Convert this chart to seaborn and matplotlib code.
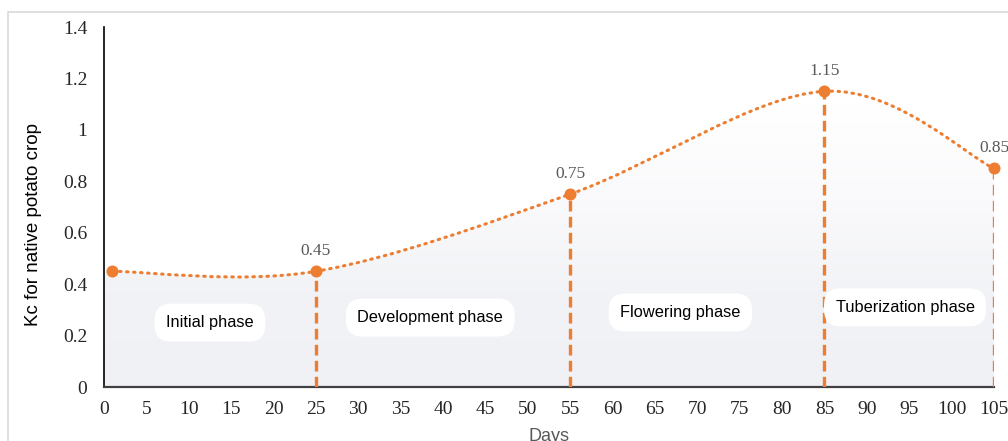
import numpy as np
import matplotlib
matplotlib.use("Agg")
import matplotlib.pyplot as plt
import seaborn as sns
import pandas as pd
from matplotlib.path import Path
from matplotlib.patches import PathPatch, Rectangle
from matplotlib.ticker import FuncFormatter

# ================================
#  Data
# ================================
days = [1, 25, 55, 85, 105]
kc = [0.45, 0.45, 0.75, 1.15, 0.85]
labelled = [False, True, True, True, True]

phases = ["Initial phase", "Development phase", "Flowering phase", "Tuberization phase"]
phase_x = [12.5, 38.5, 68, 94.5]
phase_y = [0.25, 0.27, 0.29, 0.31]

x_ticks = list(range(0, 106, 5))
y_ticks = [0, 0.2, 0.4, 0.6, 0.8, 1.0, 1.2, 1.4]

orange = "#ED7D31"
df = pd.DataFrame({"Days": days, "Kc": kc})

# ================================
#  Figure
# ================================
sns.set_theme(style="white")
plt.rcParams["font.family"] = ["Liberation Sans", "DejaVu Sans"]

fig = plt.figure(figsize=(10.08, 4.41), dpi=100)
ax = fig.add_axes([104 / 1008, 54 / 441, 890 / 1008, 360 / 441])
ax.set_xlim(0, 105)
ax.set_ylim(0, 1.4)

# outer light frame
fig.patches.append(Rectangle((8 / 1008, -0.1), 1.2, (441 - 12) / 441 + 0.1,
                             transform=fig.transFigure, fill=False,
                             ec="#d9d9d9", lw=1.2, zorder=0))

# smoothed (Excel-like) curve as Bezier path through the data points
pts = np.column_stack([days, kc])
ext = np.vstack([pts[0], pts, pts[-1]])
verts = [tuple(pts[0])]
codes = [Path.MOVETO]
for i in range(len(pts) - 1):
    p0, p1, p2, p3 = ext[i], ext[i + 1], ext[i + 2], ext[i + 3]
    c1 = p1 + (p2 - p0) / 6
    c2 = p2 - (p3 - p1) / 6
    verts += [tuple(c1), tuple(c2), tuple(p2)]
    codes += [Path.CURVE4] * 3
curve = Path(verts, codes)

# gradient fill under the curve (gray at the bottom, white towards the top)
fill_verts = verts + [(days[-1], 0), (0, 0), (0, kc[0]), verts[0]]
fill_codes = codes + [Path.LINETO, Path.LINETO, Path.LINETO, Path.CLOSEPOLY]
fill_patch = PathPatch(Path(fill_verts, fill_codes), fc="none", ec="none")
ax.add_patch(fill_patch)
grad = np.linspace(0, 1, 256).reshape(-1, 1)
cmap = matplotlib.colors.LinearSegmentedColormap.from_list(
    "g", ["#ffffff", "#fafafc", "#f2f3f6", "#f0f1f5"])
img = ax.imshow(grad, extent=[0, 105, 0, 1.1], origin="upper", aspect="auto",
                cmap=cmap, zorder=0.5, vmin=0, vmax=1)
img.set_clip_path(fill_patch)

ax.add_patch(PathPatch(curve, fc="none", ec=orange, lw=2.2,
                       linestyle=(0, (0.5, 1.8)), capstyle="round", zorder=3))

# vertical dashed drops
for d, k, lab in zip(days, kc, labelled):
    if lab:
        ax.plot([d, d], [0, k], color=orange, lw=2.4, ls=(0, (3.2, 1.6)), zorder=3)

sns.scatterplot(data=df, x="Days", y="Kc", color=orange, s=75, edgecolor=orange,
                linewidth=0, zorder=4, ax=ax, clip_on=False)

for d, k, lab in zip(days, kc, labelled):
    if lab:
        ax.annotate(f"{k:.2f}", (d, k), xytext=(0, 9), textcoords="offset points",
                    ha="center", va="bottom", fontsize=12.5, color="#595959",
                    family="Liberation Serif", annotation_clip=False)

for name, px, py in zip(phases, phase_x, phase_y):
    ax.text(px, py, name, ha="center", va="center", fontsize=11.8, color="black",
            bbox=dict(boxstyle="round,pad=0.7,rounding_size=1.0", fc="white", ec="none"),
            zorder=5)

# axes styling
for s in ["top", "right"]:
    ax.spines[s].set_visible(False)
ax.spines["left"].set_color("black")
ax.spines["bottom"].set_color("#404040")
ax.spines["left"].set_linewidth(1.2)
ax.spines["bottom"].set_linewidth(1.6)
ax.set_xticks(x_ticks)
ax.set_yticks(y_ticks)
ax.yaxis.set_major_formatter(FuncFormatter(lambda v, p: f"{v:g}"))
ax.tick_params(length=0, labelsize=14, labelcolor="#262626")
for t in ax.get_xticklabels() + ax.get_yticklabels():
    t.set_family("Liberation Serif")
ax.tick_params(axis="y", pad=12)
ax.tick_params(axis="x", pad=10)
ax.set_facecolor("none")

ax.set_xlabel("Days", fontsize=13, color="#595959", labelpad=7)
ax.set_ylabel("Kc for native potato crop", fontsize=13.5, color="black")
ax.yaxis.set_label_coords(-0.07, 0.45)

plt.savefig("out.png", dpi=100)
